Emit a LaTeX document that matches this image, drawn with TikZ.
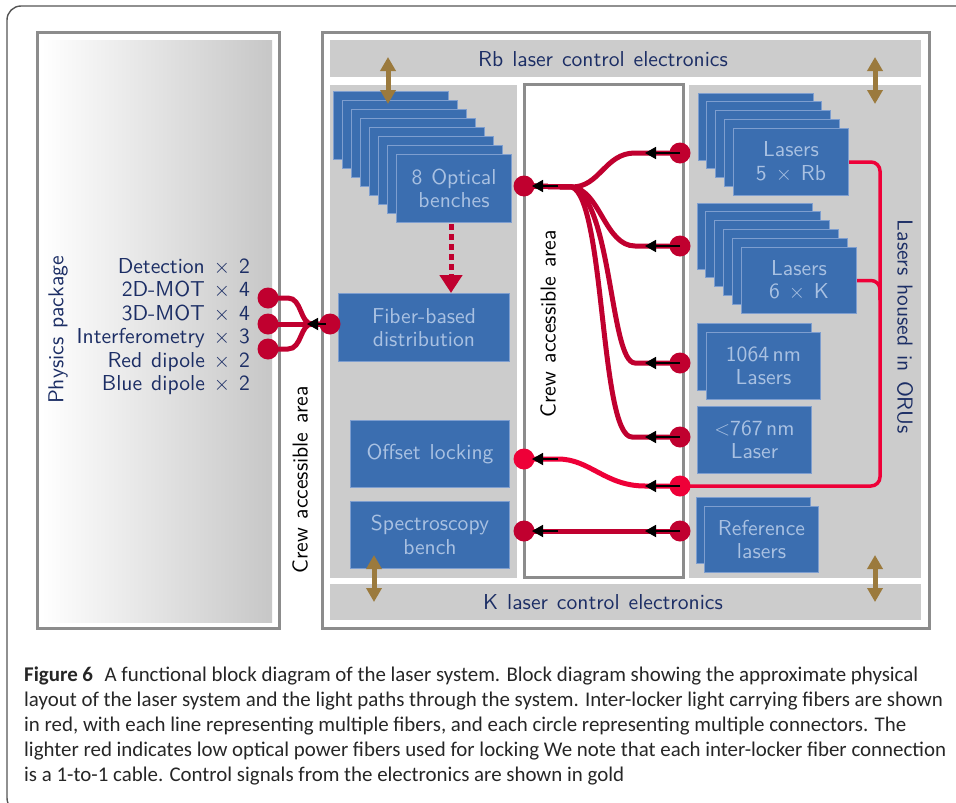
\documentclass[tikz,border=0pt]{standalone}
\usepackage{fontspec}
\newfontfamily\capfont{Carlito}
\newfontfamily\dsans{lmsans10-regular.otf}[WordSpace=1.25]
\usetikzlibrary{arrows.meta,calc}
\definecolor{boxblue}{HTML}{3B6EB0}
\definecolor{boxedge}{HTML}{7E9ECF}
\definecolor{boxtext}{HTML}{A9C1E2}
\definecolor{navy}{HTML}{1C2E65}
\definecolor{grayfill}{HTML}{CCCCCC}
\definecolor{framegray}{HTML}{8C8C8C}
\definecolor{fibred}{HTML}{C0002F}
\definecolor{lightred}{HTML}{EE0038}
\definecolor{goldc}{HTML}{9B7A3D}
\definecolor{capgray}{HTML}{555555}
\pgfdeclarelayer{back}\pgfdeclarelayer{fib}
\pgfsetlayers{back,fib,main}
\newcommand\dfont{\dsans\fontsize{21.6}{23.5}\selectfont}
\newcommand\cfont{\capfont\fontsize{20.9}{25}\selectfont}
\tikzset{
  bx/.style={draw=boxedge, fill=boxblue, line width=1pt, text=boxtext, align=center, font=\dfont, inner sep=0pt, anchor=north west},
  bxback/.style={draw=boxedge, fill=boxblue, line width=1pt},
  region/.style={fill=grayfill},
  panel/.style={draw=framegray, line width=3pt},
  lbl/.style={text=navy, font=\dfont, inner sep=0pt},
  crew/.style={text=black, font=\dfont, inner sep=0pt},
  conn/.style={circle, fill=fibred, minimum size=21pt, inner sep=0pt},
  lconn/.style={circle, fill=lightred, minimum size=21pt, inner sep=0pt},
  fib/.style={draw=fibred, line width=5pt},
  lfib/.style={draw=lightred, line width=5pt},
  orul/.style={draw=lightred, line width=3.5pt, rounded corners=9pt},
  blk/.style={draw=black, line width=1.8pt, -{Triangle[length=11pt,width=12pt]}},
  goldarr/.style={draw=goldc, line width=5pt, {Triangle[length=14pt,width=15pt]}-{Triangle[length=14pt,width=15pt]}},
  capline/.style={anchor=base west, inner sep=0pt, text=black!85, font=\cfont}
}
\begin{document}
\begin{tikzpicture}[x=1pt,y=-1pt]
\useasboundingbox (0,0) rectangle (956,803);
\begin{scope}
\clip (0,0) rectangle (956,803);
\draw[capgray, line width=1.4pt, rounded corners=14pt] (7,6) rectangle (985,812);
\end{scope}

\begin{pgfonlayer}{back}
% physics package
\draw[panel, fill=white] (37,32) rectangle (279,628);
\shade[left color=white, right color=black!22] (41,40) rectangle (272,622);
% main panel
\draw[panel, fill=white] (322,32) rectangle (929,628);
\fill[region] (330,40) rectangle (921,77);
\fill[region] (330,85) rectangle (517,578);
\fill[region] (689,85) rectangle (921,578);
\fill[region] (330,584) rectangle (921,620);
\draw[panel, fill=white] (524,84) rectangle (683,577);
% stacks
\foreach \i in {0,...,6} \draw[bxback] ({333+9*\i},{91+9*\i}) rectangle ++(115,68);
\node[bx, minimum width=115pt, minimum height=68pt] (ob) at (396,154) {8 Optical\\benches};
\node[bx, minimum width=171pt, minimum height=68pt] (fbd) at (338,293) {Fiber-based\\distribution};
\node[bx, minimum width=159pt, minimum height=67pt] (offs) at (350,420) {Offset locking};
\node[bx, minimum width=159pt, minimum height=67pt] (spec) at (350,501) {Spectroscopy\\bench};
\foreach \i in {0,...,3} \draw[bxback] ({698+8.75*\i},{93+8.75*\i}) rectangle ++(115,67);
\node[bx, minimum width=115pt, minimum height=67pt] (rb) at (733,128) {Lasers\\5 $\times$ Rb};
\foreach \i in {0,...,4} \draw[bxback] ({697+8.8*\i},{203+8.8*\i}) rectangle ++(115,66);
\node[bx, minimum width=115pt, minimum height=66pt] (kl) at (741,247) {Lasers\\6 $\times$ K};
\draw[bxback] (697,323) rectangle ++(114,67);
\node[bx, minimum width=114pt, minimum height=67pt] (nd) at (706,332) {1064\,nm\\Lasers};
\node[bx, minimum width=114pt, minimum height=67pt] (red) at (697,406) {$<$767\,nm\\Laser};
\draw[bxback] (696,497) rectangle ++(114,66);
\node[bx, minimum width=114pt, minimum height=66pt] (ref) at (704,506) {Reference\\lasers};
\end{pgfonlayer}

% texts
\node[lbl] (rbe) at (603,59) {Rb laser control electronics};
\node[lbl] (ke) at (603,602) {K laser control electronics};
\node[lbl, rotate=90] (pp) at (58,330) {Physics package};
\node[lbl, rotate=-90] (oru) at (905,327) {Lasers housed in ORUs};
\node[crew, rotate=90] (crew1) at (300,480) {Crew accessible area};
\node[crew, rotate=90] (crew2) at (548,324) {Crew accessible area};
\node[lbl, anchor=base east] (t1) at (250,273) {Detection $\times$ 2};
\node[lbl, anchor=base east] (t2) at (250,296.5) {2D-MOT $\times$ 4};
\node[lbl, anchor=base east] (t3) at (250,320) {3D-MOT $\times$ 4};
\node[lbl, anchor=base east] (t4) at (250,343.5) {Interferometry $\times$ 3};
\node[lbl, anchor=base east] (t5) at (250,367) {Red dipole $\times$ 2};
\node[lbl, anchor=base east] (t6) at (250,390.5) {Blue dipole $\times$ 2};

% connectors
\node[conn] (L1) at (268,298) {};
\node[conn] (L2) at (268,324) {};
\node[conn] (L3) at (268,349) {};
\node[conn] (FD) at (330,324) {};
\node[conn] (OB) at (524,186) {};
\node[lconn] (OL) at (524,459) {};
\node[conn] (SB) at (524,531) {};
\node[conn] (R1) at (680,153) {};
\node[conn] (R2) at (680,246) {};
\node[conn] (R3) at (680,363) {};
\node[conn] (R4) at (680,437) {};
\node[lconn] (R5) at (680,486) {};
\node[conn] (R6) at (680,531) {};

\begin{pgfonlayer}{fib}
\draw[fib] (FD.center) -- (L2.center);
\draw[fib] (FD.center) -- (312,324) .. controls (300,324) and (302,298) .. (288,298) -- (L1.center);
\draw[fib] (FD.center) -- (312,324) .. controls (300,324) and (302,349) .. (288,349) -- (L3.center);
\draw[fib] (R1.center) -- (635,153) .. controls (605,153) and (600,187) .. (572,187) -- (OB.center);
\draw[fib] (R2.center) -- (635,246) .. controls (605,246) and (600,190) .. (572,187) -- (OB.center);
\draw[fib] (R3.center) -- (635,363) .. controls (610,363) and (612,200) .. (572,187) -- (OB.center);
\draw[fib] (R4.center) -- (632,437) .. controls (600,437) and (605,200) .. (572,187) -- (OB.center);
\draw[fib] (R6.center) -- (SB.center);
\draw[lfib] (R5.center) -- (645,486) .. controls (605,486) and (590,459) .. (558,459) -- (OL.center);
\draw[orul] (rb.east) -| (880,400) |- (R5.center);
\draw[orul] (kl.east) -| (880,300);
\end{pgfonlayer}

% black direction arrows
\foreach \n in {R1,R2,R3,R4,R5,R6} \draw[blk] (\n.center) -- ++(-35,0);
\foreach \n in {OB,OL,SB} \draw[blk] ($(\n.center)+(34,0)$) -- ($(\n.center)+(8,0)$);
\draw[blk] ($(FD.center)+(-4,0)$) -- ($(FD.center)+(-23,0)$);

% dashed arrow
\coordinate (dtop) at ($(ob.south)+(-3,1)$);
\draw[draw=fibred, line width=5pt, dash pattern=on 6pt off 4pt, -{Triangle[length=18pt,width=22pt]}] (dtop) -- (dtop |- fbd.north);

% gold control arrows
\draw[goldarr] (388,57) -- (388,104);
\draw[goldarr] (875,57) -- (875,104);
\draw[goldarr] (374,555) -- (374,602);
\draw[goldarr] (875,555) -- (875,602);

% caption
\node[capline] (c1) at (24,681) {{\bfseries Figure 6}\hspace{0.55em}A functional block diagram of the laser system. Block diagram showing the approximate physical};
\node[capline] (c2) at (24,706) {layout of the laser system and the light paths through the system. Inter-locker light carrying fibers are shown};
\node[capline] (c3) at (24,731) {in red, with each line representing multiple fibers, and each circle representing multiple connectors. The};
\node[capline] (c4) at (24,756) {lighter red indicates low optical power fibers used for locking We note that each inter-locker fiber connection};
\node[capline] (c5) at (24,781) {is a 1-to-1 cable. Control signals from the electronics are shown in gold};
\end{tikzpicture}
\end{document}
